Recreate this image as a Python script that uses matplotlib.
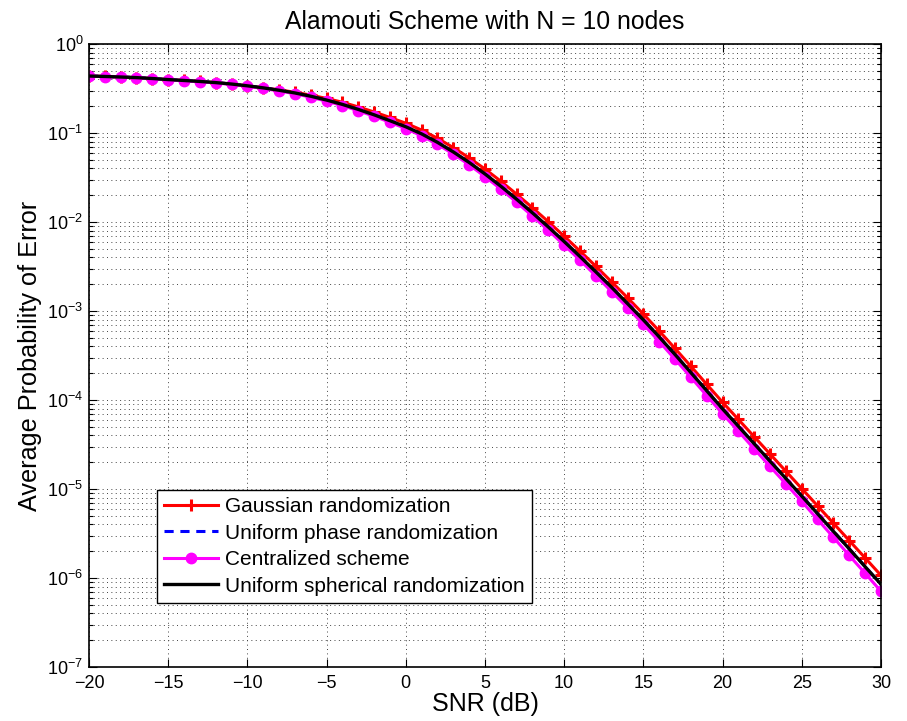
import matplotlib
matplotlib.use("Agg")
import matplotlib.pyplot as plt
import numpy as np
from matplotlib.ticker import LogLocator, MultipleLocator, NullFormatter

plt.rcParams['font.family'] = ['Liberation Sans', 'DejaVu Sans']
plt.rcParams['mathtext.fontset'] = 'custom'
plt.rcParams['mathtext.rm'] = 'Liberation Sans'
plt.rcParams['mathtext.default'] = 'regular'

# SNR axis (dB), one point per dB
snr_db = list(range(-20, 31))

# values
p_gaussian = [0.4365, 0.4315, 0.4256, 0.4188, 0.4093, 0.3981, 0.3890, 0.3793, 0.3681, 0.3548,
              0.3388, 0.3228, 0.3048, 0.2871, 0.2661, 0.2443, 0.2213, 0.1963, 0.1722, 0.1493,
              0.1288, 0.1079, 0.08730, 0.06855, 0.05260, 0.03936, 0.02871, 0.02051, 0.01445, 0.01007,
              6.92e-3, 4.71e-3, 3.18e-3, 2.12e-3, 1.41e-3, 9.23e-4, 5.96e-4, 3.79e-4, 2.39e-4, 1.50e-4,
              9.44e-5, 6.04e-5, 3.86e-5, 2.47e-5, 1.58e-5, 1.01e-5, 6.46e-6, 4.12e-6, 2.63e-6, 1.68e-6,
              1.07e-6]

p_uniform_phase = [0.4365, 0.4315, 0.4256, 0.4188, 0.4093, 0.3981, 0.3890, 0.3793, 0.3681, 0.3548,
                   0.3388, 0.3214, 0.3020, 0.2818, 0.2588, 0.2344, 0.2094, 0.1841, 0.1600, 0.1374,
                   0.1175, 0.09772, 0.07852, 0.06124, 0.04667, 0.03467, 0.02523, 0.01799, 0.01265, 8.79e-3,
                   6.03e-3, 4.09e-3, 2.75e-3, 1.84e-3, 1.21e-3, 7.94e-4, 5.11e-4, 3.24e-4, 2.03e-4, 1.27e-4,
                   7.94e-5, 5.06e-5, 3.22e-5, 2.05e-5, 1.31e-5, 8.32e-6, 5.27e-6, 3.34e-6, 2.12e-6, 1.34e-6,
                   8.45e-7]

p_centralized = [0.4365, 0.4305, 0.4246, 0.4169, 0.4074, 0.3954, 0.3864, 0.3758, 0.3648, 0.3508,
                 0.3350, 0.3162, 0.2965, 0.2761, 0.2523, 0.2280, 0.2032, 0.1778, 0.1542, 0.1318,
                 0.1122, 0.09290, 0.07464, 0.05794, 0.04395, 0.03236, 0.02344, 0.01663, 0.01164, 8.05e-3,
                 5.50e-3, 3.72e-3, 2.49e-3, 1.65e-3, 1.09e-3, 7.08e-4, 4.54e-4, 2.87e-4, 1.80e-4, 1.12e-4,
                 7.00e-5, 4.45e-5, 2.82e-5, 1.79e-5, 1.14e-5, 7.24e-6, 4.55e-6, 2.86e-6, 1.79e-6, 1.13e-6,
                 7.08e-7]

p_spherical = [0.4365, 0.4315, 0.4256, 0.4188, 0.4093, 0.3981, 0.3890, 0.3793, 0.3681, 0.3548,
               0.3388, 0.3214, 0.3020, 0.2818, 0.2588, 0.2344, 0.2094, 0.1841, 0.1600, 0.1374,
               0.1175, 0.09772, 0.07852, 0.06124, 0.04667, 0.03467, 0.02523, 0.01799, 0.01265, 8.79e-3,
               6.03e-3, 4.09e-3, 2.75e-3, 1.84e-3, 1.21e-3, 7.94e-4, 5.11e-4, 3.24e-4, 2.03e-4, 1.27e-4,
               7.94e-5, 5.06e-5, 3.22e-5, 2.05e-5, 1.31e-5, 8.32e-6, 5.27e-6, 3.34e-6, 2.12e-6, 1.34e-6,
               8.51e-7]

fig = plt.figure(figsize=(9.07, 7.21), dpi=100)
ax = fig.add_axes([0.0981, 0.0749, 0.8732, 0.8641])

ax.semilogy(snr_db, p_gaussian, color='#ff0000', lw=2.2, marker='+', ms=9, mew=2.2,
            label='Gaussian randomization')
ax.semilogy(snr_db, p_uniform_phase, color='#0000ff', lw=2.2, ls='--', dashes=(3, 2.2),
            label='Uniform phase randomization')
ax.semilogy(snr_db, p_centralized, color='#ff00ff', lw=2.2, marker='o', ms=7.5,
            label='Centralized scheme')
ax.semilogy(snr_db, p_spherical, color='black', lw=2.4,
            label='Uniform spherical randomization')

ax.set_xlim(-20, 30)
ax.set_ylim(1e-7, 1e0)
ax.xaxis.set_major_locator(MultipleLocator(5))
ax.yaxis.set_major_locator(LogLocator(base=10, numticks=20))
ax.yaxis.set_minor_locator(LogLocator(base=10, subs=np.arange(2, 10), numticks=20))
ax.yaxis.set_minor_formatter(NullFormatter())

grid_style = dict(ls=(0, (1, 3.5)), color='#444444', lw=0.7)
ax.grid(True, which='major', axis='both', **grid_style)
ax.grid(True, which='minor', axis='y', **grid_style)
ax.tick_params(which='both', direction='in', top=True, right=True, labelsize=13, width=0.8)
ax.tick_params(which='major', length=6)
ax.tick_params(which='minor', length=3)
ax.tick_params(axis='x', pad=6)
ax.tick_params(axis='y', pad=4)
for s in ax.spines.values():
    s.set_linewidth(1.2)

ax.set_title('Alamouti Scheme with N = 10 nodes', fontsize=17.8, pad=11)
ax.set_xlabel('SNR (dB)', fontsize=18, labelpad=0)
ax.set_ylabel('Average Probability of Error', fontsize=18.2, labelpad=4)

leg = ax.legend(loc='lower left', bbox_to_anchor=(0.0859, 0.1027), borderaxespad=0,
                fontsize=15, fancybox=False, framealpha=1, edgecolor='black',
                handlelength=2.6, borderpad=0.35, labelspacing=0.36, handletextpad=0.3)
leg.get_frame().set_linewidth(1.0)

fig.savefig('out.png', dpi=100)
